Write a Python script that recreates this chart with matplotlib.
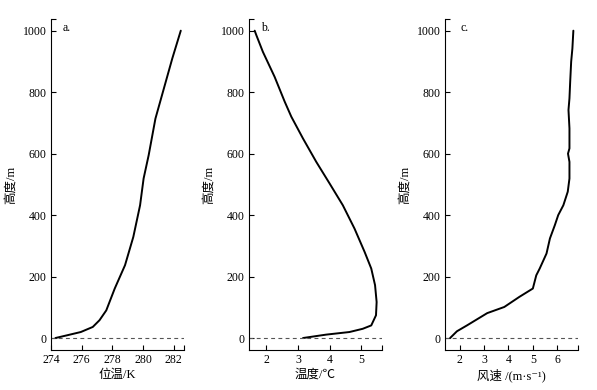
import matplotlib
matplotlib.use("Agg")
import matplotlib.pyplot as plt

plt.rcParams['font.family'] = ['Liberation Serif', 'Noto Sans CJK SC', 'DejaVu Sans']

# Panel a: potential temperature (K) vs height (m)
theta_K = [274.29, 275.06, 275.94, 276.72, 277.16, 277.6, 278.15, 278.82, 279.36,
           279.8, 280.03, 280.36, 280.8, 281.35, 281.9, 282.45]
theta_h = [0, 9, 19.5, 36, 58, 90, 161, 237, 329, 432, 519, 595, 714, 812, 910, 1000]

# Panel b: temperature (°C) vs height (m)
temp_C = [3.16, 3.89, 4.63, 5.05, 5.32, 5.47, 5.49, 5.44, 5.32, 5.11, 4.79, 4.42,
          4.0, 3.58, 3.16, 2.79, 2.58, 2.26, 1.89, 1.68, 1.63]
temp_h = [0, 11, 19.5, 30, 41, 74, 117, 172, 226, 280, 356, 432, 503, 573, 649, 720,
          769, 850, 931, 986, 1000]

# Panel c: wind speed (m/s) vs height (m)
wind_ms = [1.61, 1.89, 2.30, 2.86, 3.13, 3.83, 4.45, 5.0, 5.14, 5.28, 5.56, 5.7, 5.9,
           6.04, 6.25, 6.43, 6.5, 6.5, 6.44, 6.5, 6.5, 6.46, 6.5, 6.53, 6.57, 6.62, 6.66]
wind_h = [0, 22, 41, 68, 81, 101, 134, 161, 204, 226, 275, 324, 367, 400, 432, 476,
          519, 573, 600, 617, 682, 742, 780, 834, 899, 942, 1000]

panels = [
    dict(x=theta_K, y=theta_h, xlim=(274, 282.66), xticks=[274, 276, 278, 280, 282],
         xlabel='位温/K', tag='a.', tagx=0.09, left=51),
    dict(x=temp_C, y=temp_h, xlim=(1.45, 5.66), xticks=[2, 3, 4, 5],
         xlabel='温度/℃', tag='b.', tagx=0.09, left=249),
    dict(x=wind_ms, y=wind_h, xlim=(1.4, 6.85), xticks=[2, 3, 4, 5, 6],
         xlabel='风速 /(m·s⁻¹)', tag='c.', tagx=0.114, left=445),
]
yticks = [0, 200, 400, 600, 800, 1000]
ylim = (-39, 1038)

W, H = 597, 390
fig = plt.figure(figsize=(W / 100, H / 100), dpi=100)

for p in panels:
    ax = fig.add_axes([p['left'] / W, 40 / H, 133 / W, 331 / H])
    ax.plot(p['x'], p['y'], color='black', lw=1.4, solid_capstyle='round',
            solid_joinstyle='round')
    ax.axhline(0, color='#555555', lw=0.8, ls=(0, (3.5, 3)))
    ax.set_xlim(*p['xlim'])
    ax.set_ylim(*ylim)
    ax.set_xticks(p['xticks'])
    ax.set_yticks(yticks)
    ax.set_xticks([p['xlim'][1]], minor=True)
    ax.set_yticks([ylim[1]], minor=True)
    ax.tick_params(which='both', direction='in', length=3.8, width=0.8,
                   labelsize=8.5, pad=3)
    for s in ('top', 'right'):
        ax.spines[s].set_visible(False)
    for s in ('left', 'bottom'):
        ax.spines[s].set_linewidth(0.8)
    ax.set_xlabel(p['xlabel'], fontsize=9, labelpad=2)
    ax.set_ylabel('高度/m', fontsize=9, labelpad=4)
    ax.text(p['tagx'], 0.972, p['tag'], transform=ax.transAxes, fontsize=8.5,
            va='center', ha='left')

fig.savefig('out.png', dpi=100)
